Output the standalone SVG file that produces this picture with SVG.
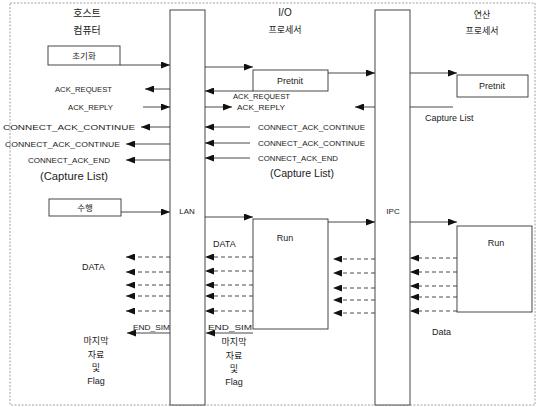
<svg xmlns="http://www.w3.org/2000/svg" width="537" height="407" viewBox="0 0 537 407">
<style>
  .frame{fill:none;stroke:#8a8a8a;stroke-width:0.8;stroke-dasharray:2 1.5}
  .box{fill:#fff;stroke:#333;stroke-width:0.9}
  .bar{fill:#fff;stroke:#333;stroke-width:0.9}
  .ln{fill:none;stroke:#333;stroke-width:0.9}
  .ar{fill:none;stroke:#333;stroke-width:0.9;marker-end:url(#ah)}
  .da{fill:none;stroke:#333;stroke-width:0.9;stroke-dasharray:4 3;marker-end:url(#ah)}
  .t{font-family:"Liberation Sans",Arial,sans-serif;font-size:8px;fill:#222}
  .tm{font-family:"Liberation Sans",Arial,sans-serif;font-size:9px;fill:#222}
  .tc{font-family:"Liberation Sans",Arial,sans-serif;font-size:10px;fill:#222}
  .k{font-family:"Noto Sans CJK KR","Liberation Sans",sans-serif;font-size:9px;fill:#222}
  .c{text-anchor:middle}
</style>
<defs>
  <marker id="ah" markerUnits="userSpaceOnUse" markerWidth="9" markerHeight="7" refX="9" refY="3.5" orient="auto">
    <path d="M0,0 L9,3.5 L0,7 z" fill="#111"/>
  </marker>
</defs>
<rect class="frame" x="10" y="3" width="525" height="402"/>

<g id="host-header">
  <text class="k c" x="87" y="17" style="font-size:10px">호스트</text>
  <text class="k c" x="87" y="34" style="font-size:10px">컴퓨터</text>
</g>
<g id="io-header">
  <text class="tm c" x="285" y="16" style="font-size:10px">I/O</text>
  <text class="k c" x="285" y="33">프로세서</text>
</g>
<g id="calc-header">
  <text class="k c" x="482" y="18">연산</text>
  <text class="k c" x="482" y="34">프로세서</text>
</g>

<g id="lan">
  <rect class="bar" x="170" y="10" width="35" height="395"/>
  <text class="t c" x="187" y="214">LAN</text>
</g>
<g id="ipc">
  <rect class="bar" x="375" y="10" width="35" height="395"/>
  <text class="t c" x="393" y="214">IPC</text>
</g>

<g id="init">
  <rect class="box" x="48" y="46" width="72" height="19"/>
  <text class="k c" x="84" y="59" style="font-size:8.5px">초기화</text>
</g>
<g id="exec">
  <rect class="box" x="49" y="199" width="72" height="17"/>
  <text class="k c" x="85" y="211" style="font-size:8.5px">수행</text>
</g>
<g id="pretinit-io">
  <rect class="box" x="253" y="70" width="75" height="21"/>
  <text class="tm c" x="290" y="84">Pretnit</text>
</g>
<g id="pretinit-calc">
  <rect class="box" x="457" y="75" width="71" height="22"/>
  <text class="tm c" x="492" y="89">Pretnit</text>
</g>
<g id="run-io">
  <rect class="box" x="253" y="219" width="75" height="110"/>
  <text class="tm c" x="285" y="241">Run</text>
</g>
<g id="run-calc">
  <rect class="box" x="457" y="226" width="75" height="86"/>
  <text class="tm c" x="496" y="246">Run</text>
</g>

<g id="connectors">
  <path class="ar" d="M120,65 H170"/>
  <path class="ar" d="M205,67 H253"/>
  <path class="ar" d="M328,73 H375"/>
  <path class="ar" d="M410,73 H457"/>
  <path class="ln" d="M410,107 H453"/>
  <path class="ar" d="M375,107 H355"/>
  <path class="ar" d="M253,91 H205"/>
  <path class="ar" d="M205,107 H232"/>
  <path class="ar" d="M170,89 H145"/>
  <path class="ar" d="M143,107 H170"/>
  <path class="ar" d="M170,127 H141"/>
  <path class="ar" d="M170,144 H126"/>
  <path class="ar" d="M170,160 H126"/>
  <path class="ar" d="M250,127 H205"/>
  <path class="ar" d="M250,143 H205"/>
  <path class="ar" d="M250,158 H205"/>
  <path class="ar" d="M121,212 H170"/>
  <path class="ar" d="M205,217 H253"/>
  <path class="ar" d="M328,222 H375"/>
  <path class="ar" d="M410,222 H457"/>
  <path class="da" d="M170,257 H126"/>
  <path class="da" d="M170,272 H126"/>
  <path class="da" d="M170,285 H126"/>
  <path class="da" d="M170,296 H126"/>
  <path class="da" d="M170,311 H126"/>
  <path class="da" d="M253,257 H205"/>
  <path class="da" d="M253,271 H205"/>
  <path class="da" d="M253,285 H205"/>
  <path class="da" d="M253,296 H205"/>
  <path class="da" d="M253,311 H205"/>
  <path class="da" d="M375,259 H333"/>
  <path class="da" d="M375,273 H333"/>
  <path class="da" d="M375,288 H333"/>
  <path class="da" d="M375,300 H333"/>
  <path class="da" d="M375,313 H333"/>
  <path class="da" d="M457,258 H410"/>
  <path class="da" d="M457,272 H410"/>
  <path class="da" d="M457,286 H410"/>
  <path class="da" d="M457,297 H410"/>
  <path class="da" d="M457,311 H410"/>
  <path class="ar" d="M170,333 H127"/>
  <path class="ar" d="M253,333 H206"/>
</g>

<g id="labels">
  <text class="t" x="55" y="92" textLength="57" lengthAdjust="spacingAndGlyphs">ACK_REQUEST</text>
  <text class="t" x="68" y="110" textLength="45" lengthAdjust="spacingAndGlyphs">ACK_REPLY</text>
  <text class="t" x="3" y="130" textLength="132" lengthAdjust="spacingAndGlyphs">CONNECT_ACK_CONTINUE</text>
  <text class="t" x="5" y="147" textLength="115" lengthAdjust="spacingAndGlyphs">CONNECT_ACK_CONTINUE</text>
  <text class="t" x="28" y="163" textLength="82" lengthAdjust="spacingAndGlyphs">CONNECT_ACK_END</text>
  <text class="tc" x="40" y="180" textLength="68" lengthAdjust="spacingAndGlyphs">(Capture List)</text>

  <text class="t" x="233" y="99" textLength="57" lengthAdjust="spacingAndGlyphs">ACK_REQUEST</text>
  <text class="t" x="237" y="110" textLength="48" lengthAdjust="spacingAndGlyphs">ACK_REPLY</text>
  <text class="t" x="258" y="130" textLength="107" lengthAdjust="spacingAndGlyphs">CONNECT_ACK_CONTINUE</text>
  <text class="t" x="258" y="146" textLength="107" lengthAdjust="spacingAndGlyphs">CONNECT_ACK_CONTINUE</text>
  <text class="t" x="258" y="161" textLength="80" lengthAdjust="spacingAndGlyphs">CONNECT_ACK_END</text>
  <text class="tc" x="270" y="177" textLength="64" lengthAdjust="spacingAndGlyphs">(Capture List)</text>

  <text class="tm" x="425" y="121">Capture List</text>

  <text class="tm" x="82" y="270">DATA</text>
  <text class="tm" x="213" y="247">DATA</text>
  <text class="tm" x="432" y="335">Data</text>

  <text class="t" x="133" y="330" textLength="37" lengthAdjust="spacingAndGlyphs">END_SIM</text>
  <text class="t" x="208" y="330" textLength="44" lengthAdjust="spacingAndGlyphs">END_SIM</text>

  <text class="k c" x="96" y="344">마지막</text>
  <text class="k c" x="96" y="358">자료</text>
  <text class="k c" x="96" y="371">및</text>
  <text class="tm c" x="96" y="384">Flag</text>

  <text class="k c" x="234" y="345">마지막</text>
  <text class="k c" x="234" y="359">자료</text>
  <text class="k c" x="234" y="372">및</text>
  <text class="tm c" x="234" y="385">Flag</text>
</g>
</svg>
